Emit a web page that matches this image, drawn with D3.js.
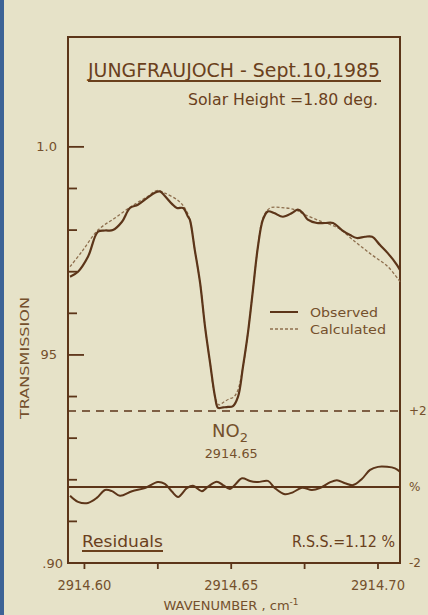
<!DOCTYPE html>
<html lang="en">
<head>
<meta charset="UTF-8">
<title>Jungfraujoch NO2 spectrum</title>
<script src="https://d3js.org/d3.v7.min.js"></script>
<style>
  body { margin: 0; background: #e6e2c8; }
  svg { display: block; font-family: "DejaVu Sans", sans-serif; }
</style>
</head>
<body>
<div id="chart"></div>
<script>
// wavenumbers (cm-1) and transmission
var obsWave = [2914.5951, 2914.5978, 2914.6012, 2914.6046, 2914.6070, 2914.6097, 2914.6128, 2914.6155,
  2914.6182, 2914.6213, 2914.6240, 2914.6257, 2914.6274, 2914.6298, 2914.6315, 2914.6336, 2914.6353,
  2914.6359, 2914.6376, 2914.6394, 2914.6411, 2914.6428, 2914.6445, 2914.6455, 2914.6472, 2914.6489,
  2914.6506, 2914.6523, 2914.6540, 2914.6557, 2914.6574, 2914.6591, 2914.6608, 2914.6625, 2914.6646,
  2914.6676, 2914.6707, 2914.6727, 2914.6744, 2914.6761, 2914.6792, 2914.6819, 2914.6847, 2914.6877,
  2914.6905, 2914.6928, 2914.6956, 2914.6980, 2914.7007, 2914.7034, 2914.7065, 2914.7075];
var observed = [0.9688, 0.9700, 0.9736, 0.9796, 0.9799, 0.9800, 0.9820, 0.9853,
  0.9861, 0.9877, 0.9890, 0.9893, 0.9882, 0.9863, 0.9853, 0.9853, 0.9832,
  0.9825, 0.9752, 0.9673, 0.9567, 0.9481, 0.9399, 0.9373, 0.9374, 0.9375,
  0.9377, 0.9399, 0.9471, 0.9553, 0.9656, 0.9760, 0.9825, 0.9845, 0.9841,
  0.9832, 0.9841, 0.9849, 0.9841, 0.9825, 0.9817, 0.9817, 0.9817, 0.9800,
  0.9788, 0.9781, 0.9784, 0.9784, 0.9764, 0.9744, 0.9716, 0.9704];

var calcWave = [2914.5951, 2914.5991, 2914.6046, 2914.6104, 2914.6162, 2914.6216, 2914.6247, 2914.6274,
  2914.6319, 2914.6342, 2914.6359, 2914.6376, 2914.6394, 2914.6411, 2914.6428, 2914.6445, 2914.6458,
  2914.6475, 2914.6492, 2914.6509, 2914.6523, 2914.6540, 2914.6557, 2914.6574, 2914.6591, 2914.6608,
  2914.6632, 2914.6673, 2914.6717, 2914.6751, 2914.6809, 2914.6864, 2914.6922, 2914.6980, 2914.7034,
  2914.7075];
var calculated = [0.9712, 0.9748, 0.9800, 0.9829, 0.9858, 0.9881, 0.9895, 0.9889,
  0.9871, 0.9853, 0.9825, 0.9752, 0.9673, 0.9567, 0.9481, 0.9399, 0.9380,
  0.9387, 0.9394, 0.9399, 0.9416, 0.9471, 0.9553, 0.9656, 0.9760, 0.9829,
  0.9853, 0.9854, 0.9849, 0.9837, 0.9820, 0.9805, 0.9772, 0.9740, 0.9712,
  0.9676];

// residuals in %
var resWave = [2914.5951, 2914.5978, 2914.6012, 2914.6043, 2914.6070, 2914.6094, 2914.6121, 2914.6162,
  2914.6206, 2914.6250, 2914.6274, 2914.6298, 2914.6319, 2914.6349, 2914.6370, 2914.6400, 2914.6421,
  2914.6451, 2914.6472, 2914.6496, 2914.6513, 2914.6537, 2914.6564, 2914.6591, 2914.6625, 2914.6649,
  2914.6683, 2914.6710, 2914.6741, 2914.6775, 2914.6802, 2914.6836, 2914.6860, 2914.6888, 2914.6915,
  2914.6945, 2914.6973, 2914.7000, 2914.7031, 2914.7058, 2914.7075];
var residuals = [-0.23, -0.39, -0.42, -0.28, -0.08, -0.11, -0.23, -0.11,
  -0.03, 0.13, 0.08, -0.12, -0.26, -0.03, 0.03, -0.11, 0.01,
  0.14, 0.05, -0.05, 0.06, 0.23, 0.16, 0.13, 0.16, -0.03,
  -0.19, -0.14, -0.02, -0.08, -0.03, 0.12, 0.18, 0.10, 0.05,
  0.21, 0.45, 0.53, 0.53, 0.49, 0.40];

var xTicks = [2914.60, 2914.625, 2914.65, 2914.675, 2914.70];
var xTickLabels = ["2914.60", "", "2914.65", "", "2914.70"];
var yTicks = [0.91, 0.92, 0.93, 0.94, 0.95, 0.96, 0.97, 0.98, 0.99, 1.0];
var yTickLabels = { "0.9": ".90", "0.95": "95", "1": "1.0" };
var resTicks = [2, 0, -2];
var resTickLabels = ["+2", "%", "-2"];

var ink = "#5c3519";
var textInk = "#74502c";

var W = 428, H = 615;
var svg = d3.select("#chart").append("svg").attr("width", W).attr("height", H);

svg.append("rect").attr("width", W).attr("height", H).attr("fill", "#e6e2c8");
// photo edge on the left
svg.append("rect").attr("x", 0).attr("y", 0).attr("width", 4).attr("height", H).attr("fill", "#3d6396");

var frame = { left: 68, right: 400, top: 37, bottom: 563 };

var x = d3.scaleLinear().domain([2914.5944, 2914.7075]).range([frame.left, frame.right]);
var y = d3.scaleLinear().domain([0.90, 1.0264]).range([frame.bottom, frame.top]);
var yRes = d3.scaleLinear().domain([-2, 2]).range([frame.bottom, 411]);

// frame
svg.append("rect")
  .attr("x", frame.left).attr("y", frame.top)
  .attr("width", frame.right - frame.left).attr("height", frame.bottom - frame.top)
  .attr("fill", "none").attr("stroke", ink).attr("stroke-width", 2);

// left ticks, drawn inward
svg.append("g").selectAll("line")
  .data(yTicks)
  .join("line")
  .attr("x1", frame.left)
  .attr("x2", (d) => (Math.abs(d - 0.95) < 1e-6 || Math.abs(d - 1.0) < 1e-6) ? frame.left + 16 : frame.left + 9)
  .attr("y1", (d) => y(d)).attr("y2", (d) => y(d))
  .attr("stroke", ink).attr("stroke-width", 1.8);

svg.append("g").selectAll("text")
  .data([0.90, 0.95, 1.0])
  .join("text")
  .attr("x", (d) => d === 0.90 ? 63 : 57)
  .attr("y", (d) => y(d))
  .attr("dy", "0.35em")
  .attr("text-anchor", "end")
  .attr("font-size", 13)
  .attr("fill", textInk)
  .text((d) => yTickLabels[String(d)]);

svg.append("text")
  .attr("transform", "translate(29,358) rotate(-90)")
  .attr("text-anchor", "middle")
  .attr("font-size", 13)
  .attr("textLength", 122).attr("lengthAdjust", "spacingAndGlyphs")
  .attr("fill", textInk)
  .text("TRANSMISSION");

// bottom ticks, drawn outward
svg.append("g").selectAll("line")
  .data(xTicks)
  .join("line")
  .attr("x1", (d) => x(d)).attr("x2", (d) => x(d))
  .attr("y1", frame.bottom).attr("y2", frame.bottom + 6)
  .attr("stroke", ink).attr("stroke-width", 1.8);

svg.append("g").selectAll("text")
  .data(xTicks)
  .join("text")
  .attr("x", (d) => x(d))
  .attr("y", 590)
  .attr("text-anchor", "middle")
  .attr("font-size", 14)
  .attr("textLength", (d, i) => xTickLabels[i] ? 54 : null)
  .attr("lengthAdjust", "spacingAndGlyphs")
  .attr("fill", textInk)
  .text((d, i) => xTickLabels[i]);

var xTitle = svg.append("text")
  .attr("x", 231).attr("y", 610)
  .attr("text-anchor", "middle")
  .attr("font-size", 13)
  .attr("fill", textInk);
xTitle.append("tspan").text("WAVENUMBER , cm");
xTitle.append("tspan").attr("dy", -5).attr("font-size", 9).text("-1");

// residual reference lines
svg.append("line")
  .attr("x1", frame.left).attr("x2", frame.right + 3)
  .attr("y1", yRes(2)).attr("y2", yRes(2))
  .attr("stroke", ink).attr("stroke-width", 1.6)
  .attr("stroke-dasharray", "8,6");

svg.append("line")
  .attr("x1", frame.left).attr("x2", frame.right)
  .attr("y1", yRes(0)).attr("y2", yRes(0))
  .attr("stroke", ink).attr("stroke-width", 1.8);

svg.append("g").selectAll("text")
  .data(resTicks)
  .join("text")
  .attr("x", 409)
  .attr("y", (d) => yRes(d))
  .attr("dy", "0.35em")
  .attr("font-size", 12)
  .attr("fill", textInk)
  .text((d, i) => resTickLabels[i]);

// curves
var line = d3.line()
  .x((d) => x(d[0]))
  .y((d) => y(d[1]))
  .curve(d3.curveCatmullRom.alpha(0.5));

var resLine = d3.line()
  .x((d) => x(d[0]))
  .y((d) => yRes(d[1]))
  .curve(d3.curveCatmullRom.alpha(0.5));

svg.append("path")
  .datum(d3.zip(calcWave, calculated))
  .attr("d", line)
  .attr("fill", "none")
  .attr("stroke", "#8e6f4e")
  .attr("stroke-width", 1.3)
  .attr("stroke-dasharray", "3,2");

svg.append("path")
  .datum(d3.zip(obsWave, observed))
  .attr("d", line)
  .attr("fill", "none")
  .attr("stroke", ink)
  .attr("stroke-width", 2.2)
  .attr("stroke-linejoin", "round");

svg.append("path")
  .datum(d3.zip(resWave, residuals))
  .attr("d", resLine)
  .attr("fill", "none")
  .attr("stroke", ink)
  .attr("stroke-width", 2);

// legend
var legend = svg.append("g");
legend.append("line")
  .attr("x1", 270).attr("x2", 298).attr("y1", 312).attr("y2", 312)
  .attr("stroke", ink).attr("stroke-width", 2);
legend.append("line")
  .attr("x1", 270).attr("x2", 298).attr("y1", 329).attr("y2", 329)
  .attr("stroke", "#8e6f4e").attr("stroke-width", 1.3).attr("stroke-dasharray", "3,2");
legend.append("text")
  .attr("x", 310).attr("y", 312).attr("dy", "0.35em")
  .attr("font-size", 13).attr("fill", textInk)
  .attr("textLength", 68).attr("lengthAdjust", "spacingAndGlyphs")
  .text("Observed");
legend.append("text")
  .attr("x", 310).attr("y", 329).attr("dy", "0.35em")
  .attr("font-size", 13).attr("fill", textInk)
  .attr("textLength", 76).attr("lengthAdjust", "spacingAndGlyphs")
  .text("Calculated");

// title block
svg.append("text")
  .attr("x", 88).attr("y", 77)
  .attr("font-size", 20)
  .attr("textLength", 292).attr("lengthAdjust", "spacingAndGlyphs")
  .attr("fill", "#6a401c")
  .text("JUNGFRAUJOCH - Sept.10,1985");
svg.append("line")
  .attr("x1", 88).attr("x2", 381).attr("y1", 81).attr("y2", 81)
  .attr("stroke", "#6a401c").attr("stroke-width", 1.8);

svg.append("text")
  .attr("x", 378).attr("y", 105)
  .attr("text-anchor", "end")
  .attr("font-size", 15)
  .attr("textLength", 190).attr("lengthAdjust", "spacingAndGlyphs")
  .attr("fill", "#6a401c")
  .text("Solar Height =1.80 deg.");

// line annotation
var no2 = svg.append("text")
  .attr("x", 212).attr("y", 437)
  .attr("font-size", 18)
  .attr("fill", textInk);
no2.append("tspan").text("NO");
no2.append("tspan").attr("dy", 5).attr("font-size", 13).text("2");

svg.append("text")
  .attr("x", x(2914.65)).attr("y", 458)
  .attr("text-anchor", "middle")
  .attr("font-size", 13)
  .attr("textLength", 53).attr("lengthAdjust", "spacingAndGlyphs")
  .attr("fill", textInk)
  .text("2914.65");

// residual panel labels
svg.append("text")
  .attr("x", 82).attr("y", 547)
  .attr("font-size", 15)
  .attr("textLength", 81).attr("lengthAdjust", "spacingAndGlyphs")
  .attr("fill", "#6a401c")
  .text("Residuals");
svg.append("line")
  .attr("x1", 82).attr("x2", 163).attr("y1", 551).attr("y2", 551)
  .attr("stroke", "#6a401c").attr("stroke-width", 1.8);

svg.append("text")
  .attr("x", 395).attr("y", 547)
  .attr("text-anchor", "end")
  .attr("font-size", 15)
  .attr("textLength", 103).attr("lengthAdjust", "spacingAndGlyphs")
  .attr("fill", "#6a401c")
  .text("R.S.S.=1.12 %");
</script>
</body>
</html>
